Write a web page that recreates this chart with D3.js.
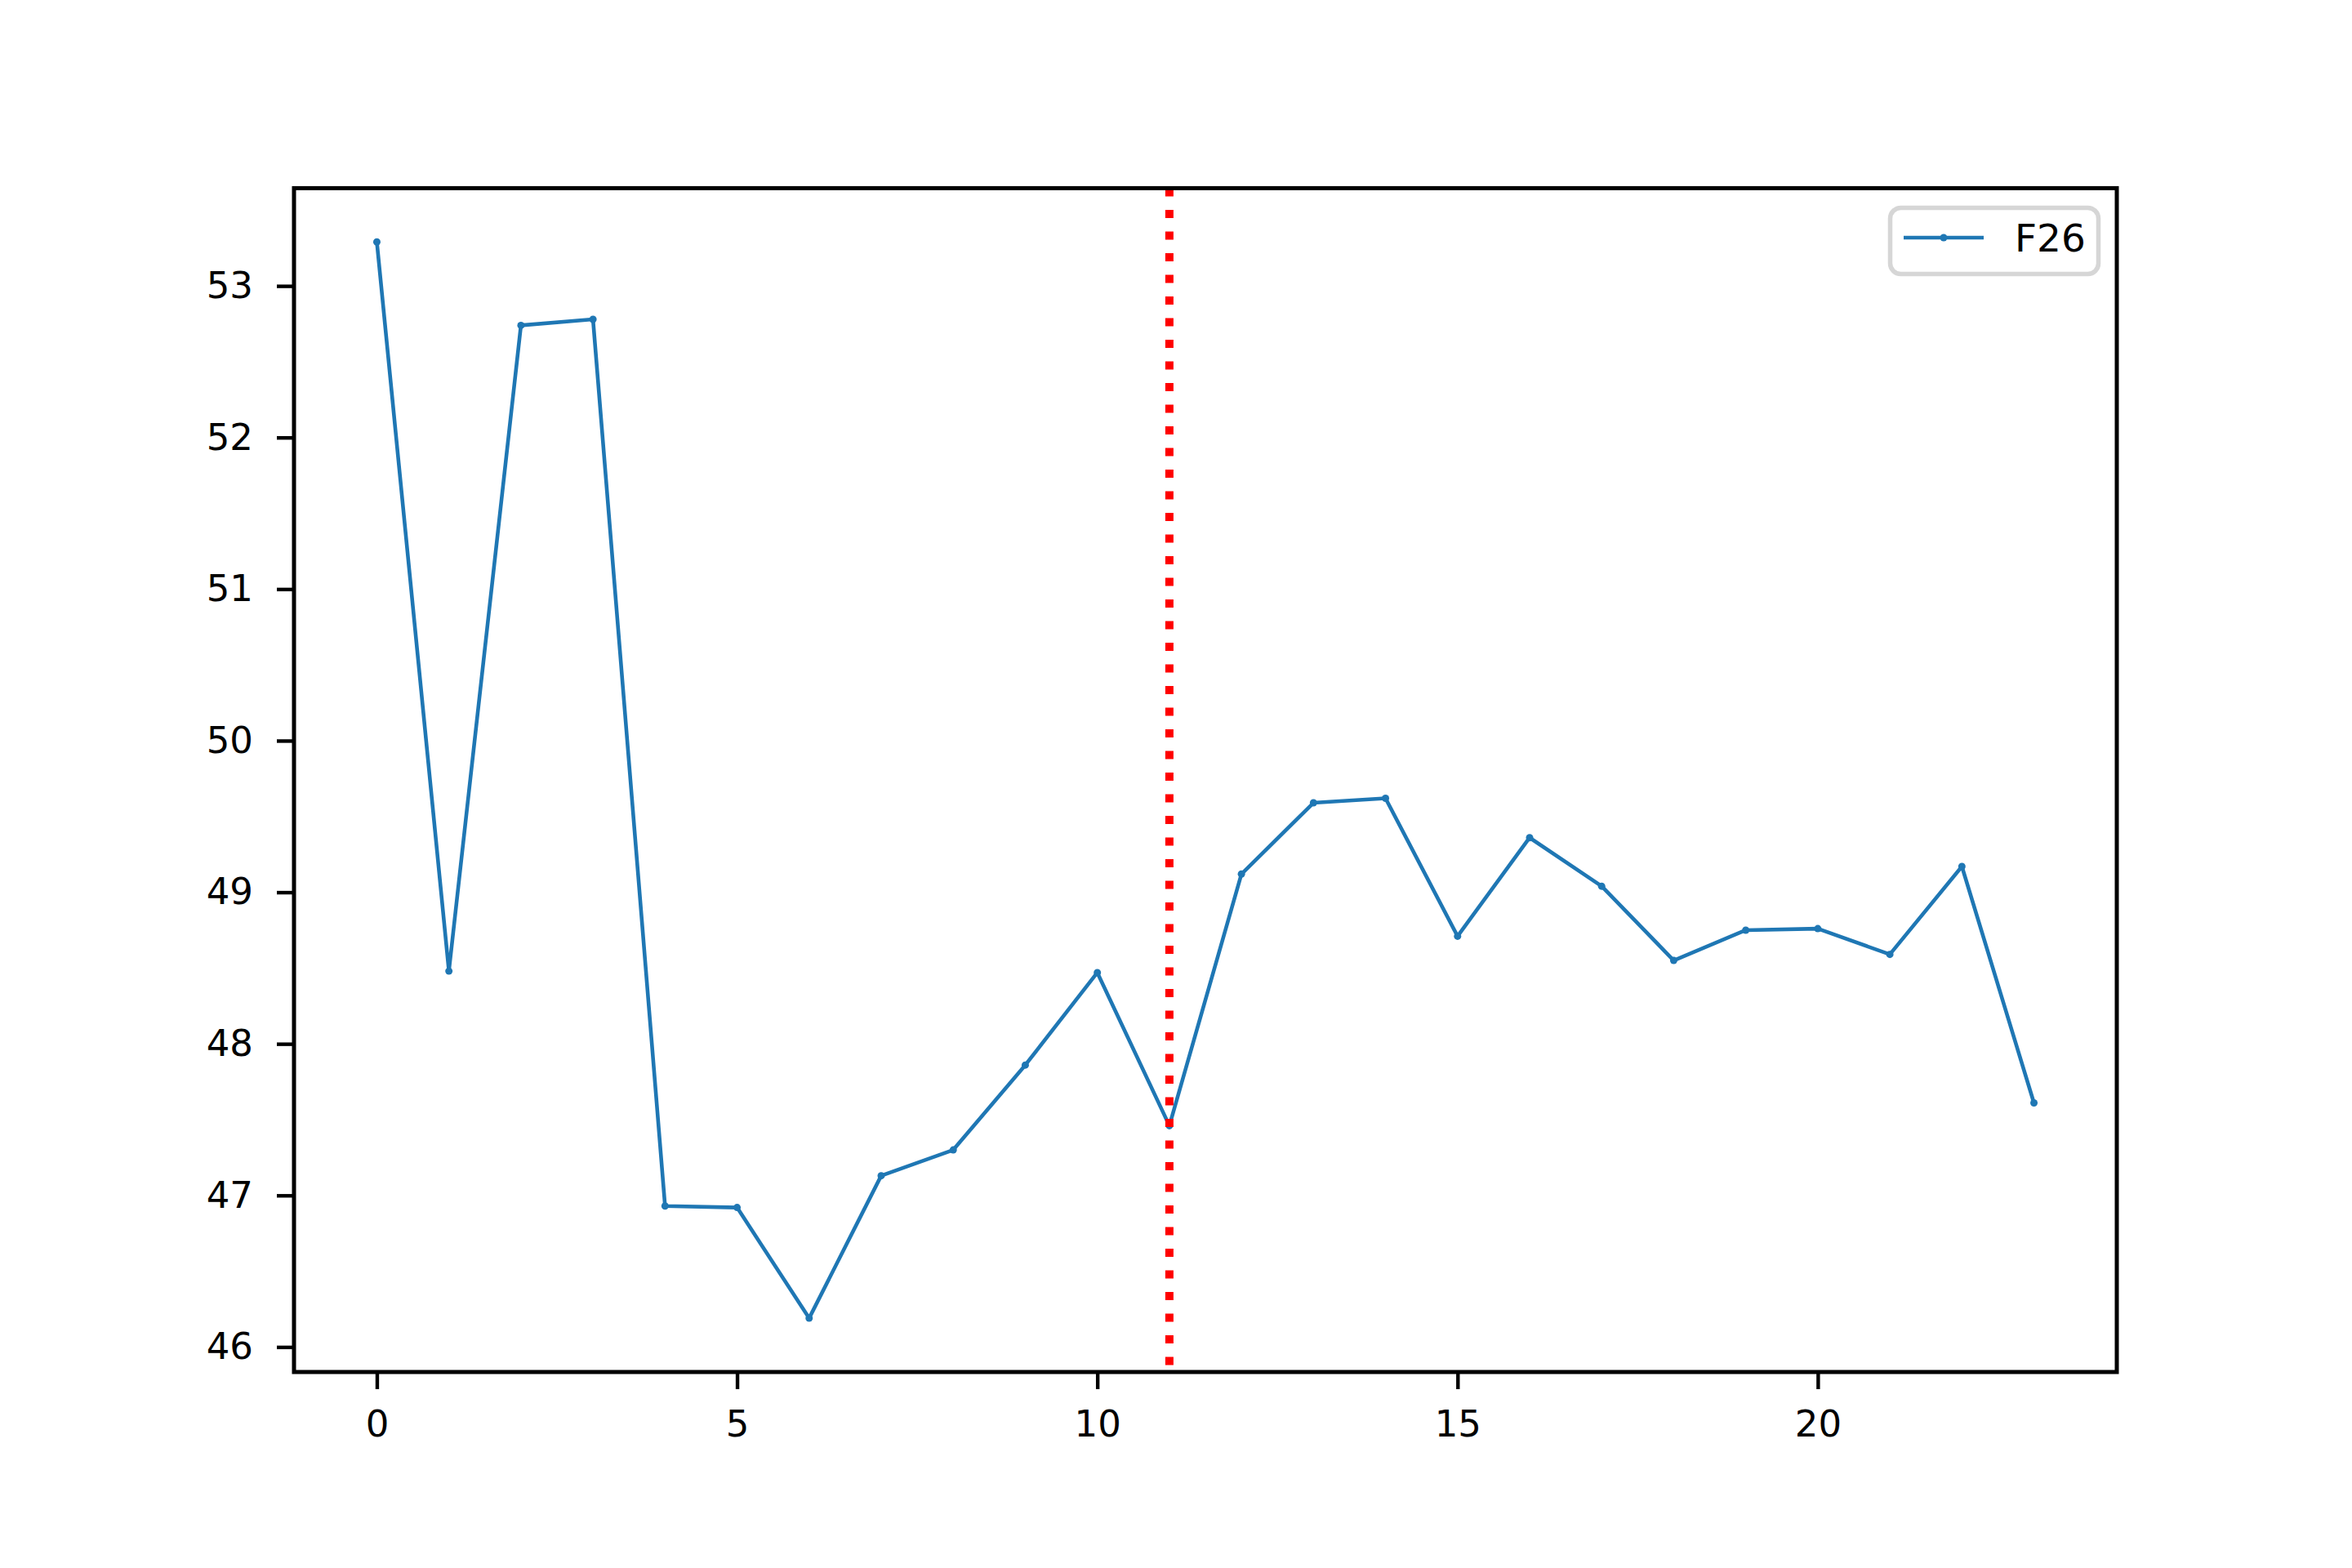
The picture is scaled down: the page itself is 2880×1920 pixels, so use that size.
<!DOCTYPE html>
<html>
<head>
<meta charset="utf-8">
<script src="https://cdn.jsdelivr.net/npm/d3@7"></script>
<style>
	body { margin: 0; background: #fff; }
	text { font-family: "DejaVu Sans", sans-serif; fill: #000; }
</style>
</head>
<body>
<svg id="chart"></svg>
<script>
// data
var xValues = d3.range(0, 24);
var f26 = [53.29, 48.48, 52.74, 52.78, 46.93, 46.92, 46.19, 47.13, 47.30, 47.86,
	48.47, 47.46, 49.12, 49.59, 49.62, 48.71, 49.36, 49.04, 48.55, 48.75,
	48.76, 48.59, 49.17, 47.61];
var seriesName = "F26";
var markerX = 11;
var xTicks = [0, 5, 10, 15, 20];
var yTicks = [46, 47, 48, 49, 50, 51, 52, 53];

var W = 2880,
	H = 1920;
// plot box (note: "top" is taken by window.top)
var axLeft = 360,
	axRight = 2592,
	axTop = 230.4,
	axBottom = 1680;

var svg = d3
	.select("#chart")
	.attr("width", W)
	.attr("height", H);

// matplotlib style 5% margins
var xExt = d3.extent(xValues),
	yExt = d3.extent(f26);
var xPad = (xExt[1] - xExt[0]) * 0.05,
	yPad = (yExt[1] - yExt[0]) * 0.05;

var x = d3
	.scaleLinear()
	.domain([xExt[0] - xPad, xExt[1] + xPad])
	.range([axLeft, axRight]);

var y = d3
	.scaleLinear()
	.domain([yExt[0] - yPad, yExt[1] + yPad])
	.range([axBottom, axTop]);

var blue = "#1f77b4";

// clip for plot area
svg
	.append("clipPath")
	.attr("id", "plotClip")
	.append("rect")
	.attr("x", axLeft)
	.attr("y", axTop)
	.attr("width", axRight - axLeft)
	.attr("height", axBottom - axTop);

var plot = svg.append("g").attr("clip-path", "url(#plotClip)");

// series line
var line = d3
	.line()
	.x((d, i) => x(xValues[i]))
	.y(d => y(d));

plot
	.append("path")
	.datum(f26)
	.attr("d", line)
	.attr("fill", "none")
	.attr("stroke", blue)
	.attr("stroke-width", 4.6)
	.attr("stroke-linejoin", "round")
	.attr("stroke-linecap", "butt");

plot
	.selectAll(".dot")
	.data(f26)
	.enter()
	.append("circle")
	.classed("dot", true)
	.attr("cx", (d, i) => x(xValues[i]))
	.attr("cy", d => y(d))
	.attr("r", 4.5)
	.attr("fill", blue);

// red dotted vertical line
plot
	.append("line")
	.attr("x1", x(markerX))
	.attr("x2", x(markerX))
	.attr("y1", axTop)
	.attr("y2", axBottom)
	.attr("stroke", "#ff0000")
	.attr("stroke-width", 10)
	.attr("stroke-dasharray", "10,16.5");

// axes
var xAxis = d3
	.axisBottom(x)
	.tickValues(xTicks)
	.tickSize(21)
	.tickPadding(26)
	.tickFormat(d3.format("d"));

var yAxis = d3
	.axisLeft(y)
	.tickValues(yTicks)
	.tickSize(21)
	.tickPadding(29)
	.tickFormat(d3.format("d"));

var gx = svg
	.append("g")
	.attr("transform", "translate(0," + axBottom + ")")
	.call(xAxis);

var gy = svg
	.append("g")
	.attr("transform", "translate(" + axLeft + ",0)")
	.call(yAxis);

[gx, gy].forEach(function(g) {
	g.select(".domain").remove();
	g.selectAll(".tick line")
		.attr("stroke", "#000")
		.attr("stroke-width", 4.4);
	g.selectAll(".tick text")
		.style("font-size", "45px")
		.style("font-family", "DejaVu Sans");
});

// frame
svg
	.append("rect")
	.attr("x", axLeft)
	.attr("y", axTop)
	.attr("width", axRight - axLeft)
	.attr("height", axBottom - axTop)
	.attr("fill", "none")
	.attr("stroke", "#000")
	.attr("stroke-width", 5);

// legend
var legend = svg.append("g").attr("transform", "translate(2314.5,254.5)");

legend
	.append("rect")
	.attr("width", 255)
	.attr("height", 81)
	.attr("rx", 13)
	.attr("ry", 13)
	.attr("fill", "#fff")
	.attr("fill-opacity", 0.8)
	.attr("stroke", "#d6d6d6")
	.attr("stroke-width", 5.5);

legend
	.append("line")
	.attr("x1", 16.5)
	.attr("x2", 114.5)
	.attr("y1", 36.5)
	.attr("y2", 36.5)
	.attr("stroke", blue)
	.attr("stroke-width", 4.6);

legend
	.append("circle")
	.attr("cx", 65.5)
	.attr("cy", 36.5)
	.attr("r", 4.5)
	.attr("fill", blue);

legend
	.append("text")
	.attr("x", 152.5)
	.attr("y", 53)
	.style("font-size", "47px")
	.text(seriesName);
</script>
</body>
</html>
